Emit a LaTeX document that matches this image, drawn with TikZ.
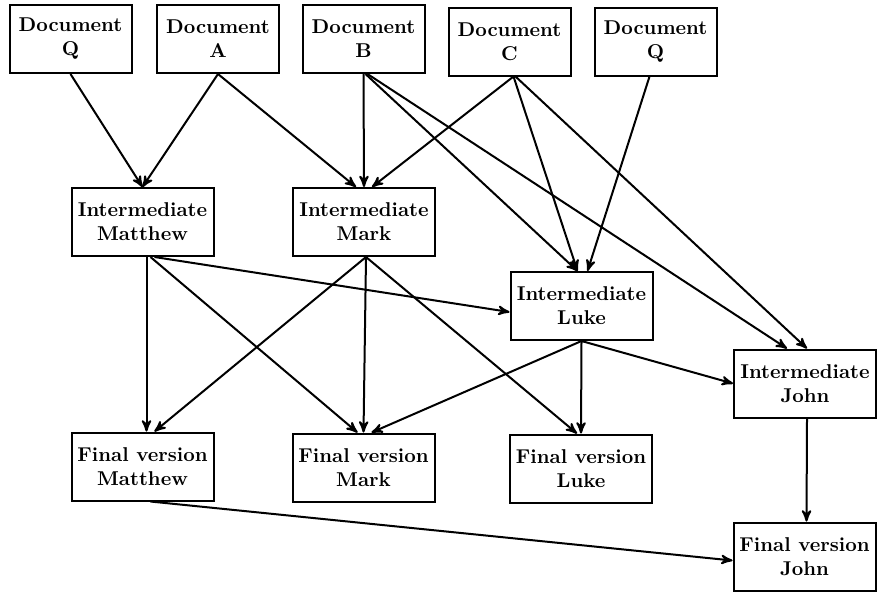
\documentclass[tikz,border=0pt]{standalone}
\usepackage{tikz}
\usetikzlibrary{arrows}

\begin{document}
\begin{tikzpicture}
  [
    x=0.5pt, y=-0.5pt,
    link/.style={line width=1pt, ->, >=stealth'},
    doc/.style={draw, line width=1pt, minimum width=61pt, minimum height=34pt,
                inner sep=1pt, align=center, font=\bfseries},
    gospel/.style={doc, minimum width=71pt}
  ]
  \fill[white] (0, 0) rectangle (881, 591);
  \useasboundingbox (0, 0) rectangle (881, 591);

  % sources
  \node[doc] (docQa) at (70.5, 39) {Document\\Q};
  \node[doc] (docA) at (218, 39) {Document\\A};
  \node[doc] (docB) at (363.5, 39) {Document\\B};
  \node[doc] (docC) at (509.5, 41.5) {Document\\C};
  \node[doc] (docQb) at (655.5, 41.5) {Document\\Q};

  % intermediate versions
  \node[gospel] (intMatthew) at (142.5, 222) {Intermediate\\Matthew};
  \node[gospel] (intMark) at (364, 222) {Intermediate\\Mark};
  \node[gospel] (intLuke) at (581.5, 306) {Intermediate\\Luke};
  \node[gospel] (intJohn) at (805, 383.5) {Intermediate\\John};

  % final versions
  \node[gospel] (finMatthew) at (142.5, 466.5) {Final version\\Matthew};
  \node[gospel] (finMark) at (363.5, 467.5) {Final version\\Mark};
  \node[gospel] (finLuke) at (581, 468.5) {Final version\\Luke};
  \node[gospel] (finJohn) at (804.5, 556.5) {Final version\\John};

  \draw[link] (docQa.south) -- (intMatthew.north);
  \draw[link] (docA.south) -- (intMatthew.north);
  \draw[link] (docA.south) -- ([xshift=-4pt]intMark.north);
  \draw[link] (docB.south) -- (intMark.north);
  \draw[link] ([xshift=2pt]docC.south) -- ([xshift=4pt]intMark.north);
  \draw[link] ([xshift=1pt]docB.south) -- ([xshift=-2pt]intLuke.north);
  \draw[link] ([xshift=2pt]docC.south) -- ([xshift=-2pt]intLuke.north);
  \draw[link] ([xshift=-3pt]docQb.south) -- ([xshift=3pt]intLuke.north);
  \draw[link] ([xshift=2pt]docB.south) -- ([xshift=-9pt]intJohn.north);
  \draw[link] ([xshift=3pt]docC.south) -- ([xshift=1pt]intJohn.north);

  \draw[link] ([xshift=2pt]intMatthew.south) -- ([xshift=2pt]finMatthew.north);
  \draw[link] ([xshift=4pt]intMatthew.south) -- ([xshift=-3pt]finMark.north);
  \draw[link] ([xshift=6pt]intMatthew.south) -- ([yshift=-3pt]intLuke.west);
  \draw[link] ([xshift=1pt]intMark.south) -- ([xshift=6pt]finMatthew.north);
  \draw[link] ([xshift=1pt]intMark.south) -- (finMark.north);
  \draw[link] ([xshift=1pt]intMark.south) -- ([xshift=-2pt]finLuke.north);
  \draw[link] (intLuke.south) -- ([xshift=4pt]finMark.north);
  \draw[link] (intLuke.south) -- (finLuke.north);
  \draw[link] (intLuke.south) -- (intJohn.west);
  \draw[link] ([xshift=1pt]intJohn.south) -- ([xshift=1pt]finJohn.north);
  \draw[link] ([xshift=4pt]finMatthew.south) -- ([yshift=-2pt]finJohn.west);
\end{tikzpicture}
\end{document}
